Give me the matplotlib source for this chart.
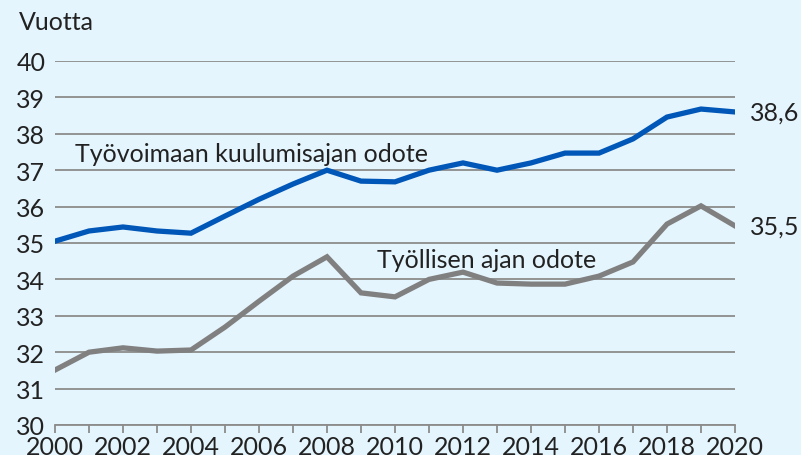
import matplotlib.pyplot as plt

plt.rcParams['font.family'] = ['Lato', 'DejaVu Sans']

years = list(range(2000, 2021))
tyovoima = [35.05, 35.33, 35.44, 35.33, 35.27, 35.74, 36.2, 36.62, 37.0, 36.7, 36.68,
            37.0, 37.2, 37.0, 37.2, 37.47, 37.47, 37.86, 38.46, 38.68, 38.6]
tyollinen = [31.51, 32.0, 32.12, 32.03, 32.06, 32.69, 33.4, 34.09, 34.62, 33.63, 33.52,
             34.0, 34.2, 33.9, 33.87, 33.87, 34.09, 34.48, 35.52, 36.02, 35.47]

bg = '#e5f5fd'
fig = plt.figure(figsize=(8.01, 4.56), dpi=100, facecolor=bg)
ax = fig.add_axes([55 / 801, 30 / 456, 680 / 801, 364 / 456], facecolor=bg)

ax.plot(years, tyovoima, color='#0057b8', lw=3.8, solid_joinstyle='miter')
ax.plot(years, tyollinen, color='#808080', lw=3.8, solid_joinstyle='miter')

ax.set_xlim(2000, 2020)
ax.set_ylim(30, 40)
ax.set_yticks(range(30, 41))
ax.set_xticks(range(2000, 2021))
ax.set_xticklabels([str(y) if y % 2 == 0 else '' for y in years])
ax.grid(axis='y', color='#8c8c8c', lw=1.3)
ax.set_axisbelow(True)
for s in ['top', 'right', 'left']:
    ax.spines[s].set_visible(False)
ax.spines['bottom'].set_color('#8c8c8c')
ax.spines['bottom'].set_linewidth(1.3)
ax.tick_params(axis='y', length=0, labelsize=18, colors='#222222', pad=7)
ax.tick_params(axis='x', length=6, color='#8c8c8c', width=1.3, labelsize=18,
               labelcolor='#222222', pad=1)

fs = 18
ax.text(1998.95, 40.88, 'Vuotta', fontsize=fs, color='#222222', va='baseline')
ax.text(2000.6, 37.25, 'Työvoimaan kuulumisajan odote', fontsize=fs, color='#222222', va='baseline')
ax.text(2009.47, 34.34, 'Työllisen ajan odote', fontsize=fs, color='#222222', va='baseline')
ax.text(2020.44, tyovoima[-1], '38,6', fontsize=fs, color='#222222', va='center')
ax.text(2020.44, tyollinen[-1], '35,5', fontsize=fs, color='#222222', va='center')

fig.savefig('out.png', dpi=100, facecolor=bg)
